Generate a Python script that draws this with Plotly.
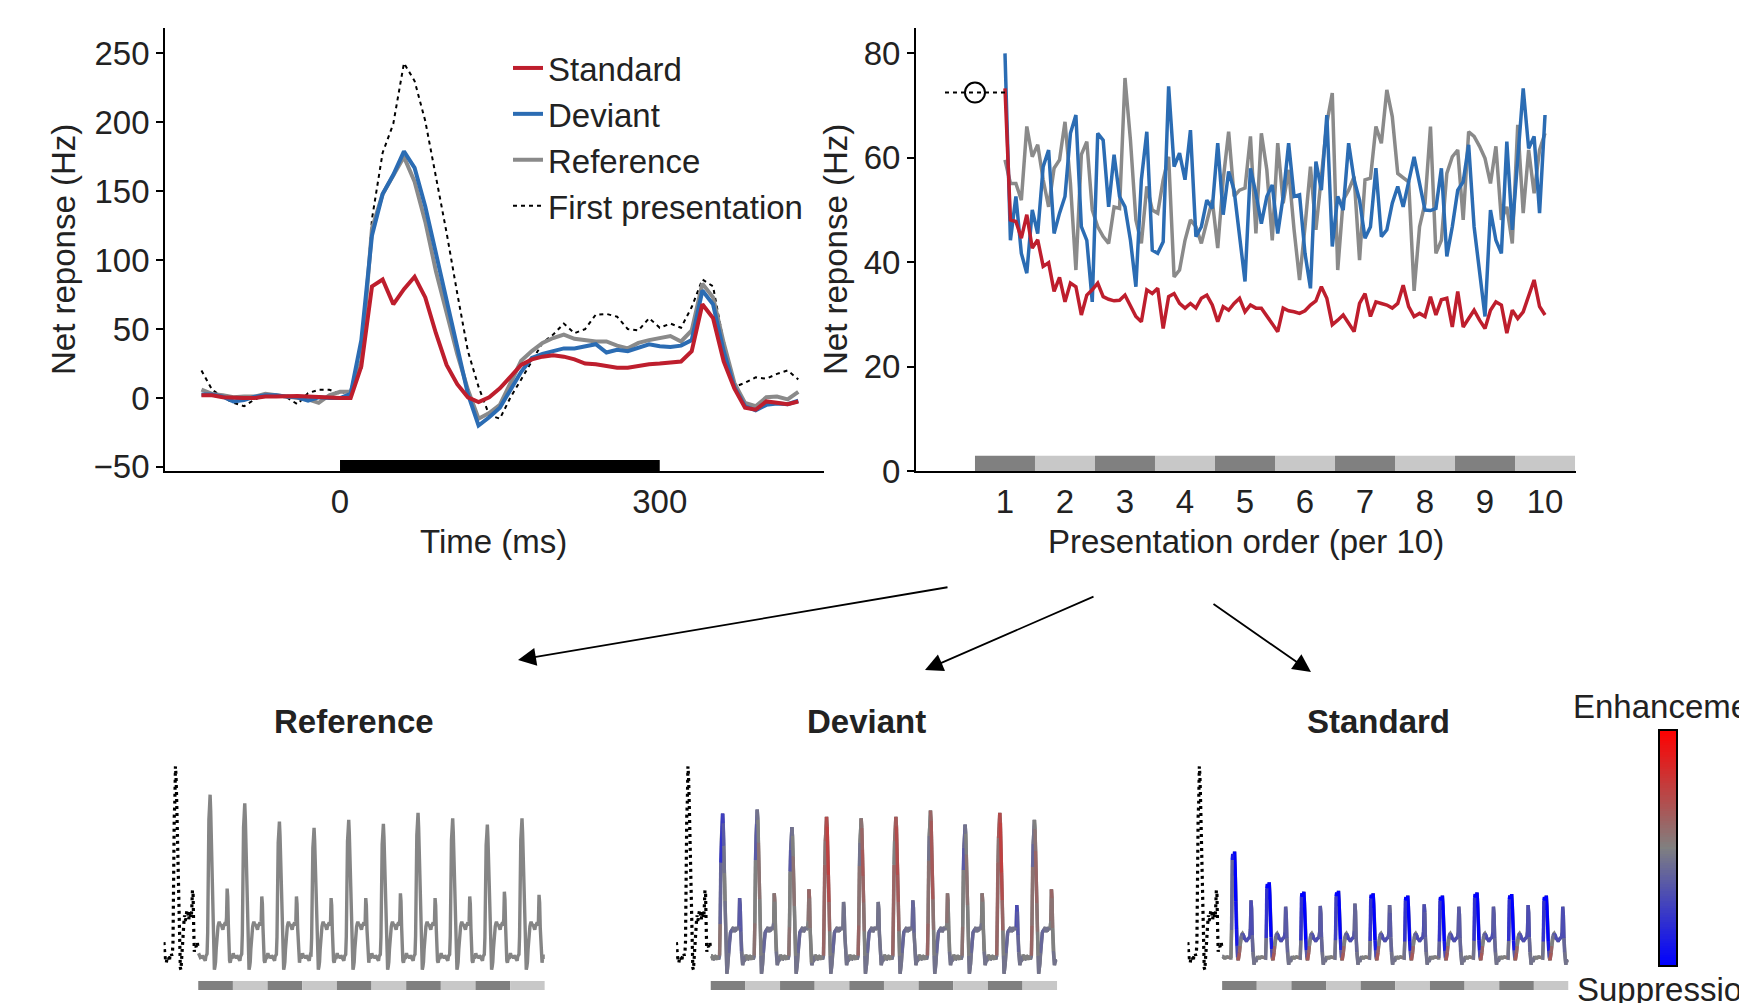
import numpy as np
import plotly.graph_objects as go

W, H = 1747, 1003          # target picture size
OFF = 8                    # page body margin
FW, FH = W - OFF, H - OFF  # figure size so that the page fits the window exactly
def px(x): return (x - OFF) / FW
def py(y): return 1 - (y - OFF) / FH

FONT = "Liberation Sans, Arial, sans-serif"
RED = "#be1e2d"
BLUE = "#2b6cb3"
GRAY = "#8a8a8a"

# ---------------- Data: top-left PSTH (Hz) ----------------
time_ms = list(range(-130, 431, 10))
standard_psth = [2, 2, 0.5, 0, 0, 0, 1, 1, 1.5, 1.5, 1, 0.5, 0.5, 0,
                 0, 23, 81, 86, 68, 79, 88, 73, 47, 24, 10, 0.5, -3, 0.5, 7, 15, 24, 28, 30, 31,
                 30, 28, 25, 24.5, 23.5, 22, 22, 23.5, 24.5, 25, 26, 26.5, 34, 68, 58, 26.5, 7,
                 -7, -8.5, -2.5, -3.5, -4.5, -2.5]
deviant_psth = [2.5, 2.5, 1, -2.5, -1.5, 1, 2, 2, 1, 0.5, -2, 0.5, 0, 0,
                3, 42, 118, 148, 162, 179, 167, 139, 105, 71, 34, 3, -20, -14, -7, 6, 19, 29, 32, 34,
                36, 36, 37.5, 39, 33, 35, 34, 36.5, 39, 37.5, 37, 38, 42, 78, 68, 34, 8,
                -6, -9, -5, -4, -4.5, -2]
reference_psth = [6, 3, 2, 0.5, 1, 1, 3, 2, 1, 0, -1, -3.5, 2, 4.5,
                  4.5, 27, 123, 148, 161, 175, 157, 128, 92, 63, 32, 6, -15, -11, -5, 11, 27, 34, 40, 43.5,
                  46, 43, 42, 41, 41, 38, 36, 40, 42, 43.5, 45, 41, 49, 83, 73, 40, 11,
                  -3.5, -6, 0.5, 1, -1, 4.5]
first_psth = [20, 6, 0.5, -3.5, -6, -1, 2, 1, 0.5, -4.5, 3.5, 6, 6, 3,
              6, 21, 130, 178, 199, 243, 230, 201, 160, 120, 76, 34, 8, -12.5, -15, 0.5, 13.5, 26.5, 40, 46,
              54, 47, 50, 60.5, 61, 59, 50, 49, 58, 51, 54, 51, 66, 86, 81, 40, 8,
              11, 15, 14, 17.5, 20, 13.5]
stim_on_ms, stim_off_ms = 0, 300

# ---------------- Data: top-right, response vs presentation order ----------------
presentation = list(range(1, 101))
standard_order = [73.3, 48.1, 47.8, 44.6, 49.1, 42.7, 44.3, 39.2, 39.9, 34.4,
                  37.1, 32.4, 36.0, 35.3, 29.9, 33.7, 34.7, 36.0, 33.4, 32.9,
                  32.6, 32.7, 33.7, 31.5, 29.6, 28.6, 34.7, 34.0, 35.0, 27.3,
                  33.4, 34.0, 32.1, 31.2, 32.1, 31.2, 33.1, 33.7, 31.8, 28.6,
                  31.5, 30.8, 32.1, 33.1, 30.5, 31.8, 31.2, 31.2, 29.6, 28.3,
                  26.7, 31.2, 30.7, 30.5, 30.2, 30.7, 31.8, 32.6, 35.3, 33.1,
                  28.0, 28.9, 29.9, 28.3, 26.7, 32.1, 34.0, 29.6, 32.4, 32.1,
                  31.8, 31.2, 32.1, 35.6, 31.5, 29.6, 30.2, 29.6, 33.4, 29.9,
                  32.8, 33.1, 27.6, 34.4, 27.6, 29.2, 30.8, 28.9, 27.3, 30.8,
                  32.4, 31.8, 26.4, 30.8, 29.2, 30.5, 33.4, 36.6, 31.5, 29.9]
deviant_order = [80.0, 44.2, 52.6, 41.7, 37.9, 50.0, 45.5, 58.3, 61.5, 45.5,
                 49.4, 52.6, 64.7, 68.2, 46.8, 44.2, 32.4, 64.7, 63.4, 50.6,
                 60.6, 52.6, 50.6, 44.2, 35.3, 55.8, 65.0, 42.3, 41.7, 43.9,
                 73.7, 58.3, 60.9, 55.8, 65.3, 44.9, 46.8, 51.9, 50.3, 62.8,
                 49.1, 57.4, 53.8, 44.9, 36.3, 58.0, 53.2, 47.4, 52.6, 54.8,
                 45.5, 52.6, 62.8, 52.6, 52.9, 41.7, 35.0, 59.3, 53.8, 68.2,
                 43.0, 52.6, 50.0, 62.8, 55.8, 51.9, 44.6, 46.8, 58.0, 44.9,
                 46.2, 51.3, 54.5, 50.6, 55.8, 60.2, 55.1, 50.0, 49.9, 50.3,
                 58.0, 41.1, 46.8, 53.8, 55.4, 62.5, 46.8, 37.9, 29.6, 50.0,
                 44.2, 41.7, 63.1, 46.2, 59.6, 73.3, 61.8, 64.1, 49.4, 68.2]
reference_order = [59.6, 55.1, 55.1, 51.9, 66.0, 60.2, 62.5, 55.8, 50.6, 58.0,
                   59.6, 66.9, 55.1, 38.5, 60.6, 63.1, 50.0, 46.8, 44.9, 43.6,
                   50.6, 50.3, 75.3, 63.4, 48.1, 43.6, 54.5, 50.0, 49.4, 55.8,
                   60.2, 37.2, 38.5, 44.2, 48.1, 46.8, 43.6, 48.1, 51.9, 42.7,
                   55.8, 65.0, 52.6, 53.8, 54.2, 64.1, 45.5, 64.7, 57.7, 44.2,
                   62.8, 51.3, 57.7, 46.2, 36.6, 46.8, 58.3, 46.2, 56.4, 66.6,
                   72.4, 38.5, 51.9, 53.8, 56.4, 40.4, 55.8, 56.1, 66.0, 62.8,
                   73.0, 67.9, 57.0, 56.1, 55.4, 34.5, 46.8, 51.3, 66.0, 41.7,
                   44.2, 57.0, 60.2, 61.5, 48.1, 65.0, 64.1, 62.2, 59.9, 55.1,
                   62.2, 48.1, 50.6, 43.6, 66.3, 49.4, 61.5, 53.2, 61.5, 64.7]
first_presentation_value = 72.5
order_ticks = list(range(1, 11))

# ---------------- Data: bottom, per-block (10 presentations) peaks (Hz) ----------------
blocks = list(range(1, 11))
ref_onset_peak = [207, 196, 173, 165, 175, 170, 184, 177, 169, 177]
dev_onset_peak = [183, 188, 166, 179, 177, 179, 187, 169, 184, 175]
std_onset_peak = [135, 96, 84, 85, 82, 79, 79, 83, 81, 79]
ref_offset_peak = [88, 78, 78, 76, 76, 82, 76, 78, 84, 80]
dev_offset_peak = [76, 82, 87, 71, 71, 73, 82, 82, 67, 87]
std_offset_peak = [73, 65, 66, 69, 67, 68, 65, 65, 67, 65]

# ---------------- helpers ----------------
t_arr = np.array(time_ms)
on_idx = np.where((t_arr >= 10) & (t_arr <= 120))[0]
off_idx = np.where((t_arr >= 330) & (t_arr <= 370))[0]

def block_trace(mean, onset, offset):
    m = np.array(mean, float)
    g = m.copy()
    g[on_idx] *= onset / m[on_idx].max()
    g[off_idx] *= offset / m[off_idx].max()
    return g

def cycle_x(k):
    return [k - 0.5 + (t + 135) / 570 for t in time_ms]

def concat(mean, onsets, offsets):
    xs, ys = [], []
    for k, on, off in zip(blocks, onsets, offsets):
        xs += cycle_x(k)
        ys += list(block_trace(mean, on, off))
    return xs, ys

def cmap(c):
    c = max(-1, min(1, c))
    if c < 0:
        a = -c
        return f"rgb({int(128*(1-a))},{int(128*(1-a))},{int(128+127*a)})"
    return f"rgb({int(128+127*c)},{int(128*(1-c))},{int(128*(1-c))})"

fig = go.Figure()

# ---- top-left traces (first presentation underneath) ----
fig.add_trace(go.Scatter(x=time_ms, y=first_psth, mode="lines", name="First presentation",
                         line=dict(color="black", width=2, dash="4px,4px"), legendrank=4,
                         xaxis="x", yaxis="y"))
fig.add_trace(go.Scatter(x=time_ms, y=reference_psth, mode="lines", name="Reference",
                         line=dict(color=GRAY, width=4), legendrank=3, xaxis="x", yaxis="y"))
fig.add_trace(go.Scatter(x=time_ms, y=deviant_psth, mode="lines", name="Deviant",
                         line=dict(color=BLUE, width=4), legendrank=2, xaxis="x", yaxis="y"))
fig.add_trace(go.Scatter(x=time_ms, y=standard_psth, mode="lines", name="Standard",
                         line=dict(color=RED, width=4), legendrank=1, xaxis="x", yaxis="y"))

# ---- top-right traces ----
ox = [1 + (p - 1) * 9 / 99 for p in presentation]
fig.add_trace(go.Scatter(x=ox, y=reference_order, mode="lines", line=dict(color=GRAY, width=3.5),
                         showlegend=False, xaxis="x2", yaxis="y2"))
fig.add_trace(go.Scatter(x=ox, y=deviant_order, mode="lines", line=dict(color=BLUE, width=3.5),
                         showlegend=False, xaxis="x2", yaxis="y2"))
fig.add_trace(go.Scatter(x=ox, y=standard_order, mode="lines", line=dict(color=RED, width=3.5),
                         showlegend=False, xaxis="x2", yaxis="y2"))
fig.add_trace(go.Scatter(x=[0, 1], y=[first_presentation_value] * 2, mode="lines",
                         line=dict(color="black", width=2, dash="4px,4px"),
                         showlegend=False, xaxis="x2", yaxis="y2"))
fig.add_trace(go.Scatter(x=[0.5], y=[first_presentation_value], mode="markers",
                         marker=dict(symbol="circle-open", size=20, color="black", line=dict(width=2)),
                         showlegend=False, xaxis="x2", yaxis="y2"))

# ---- bottom panels ----
ref_x, ref_y = concat(reference_psth, ref_onset_peak, ref_offset_peak)
dev_x, dev_y = concat(deviant_psth, dev_onset_peak, dev_offset_peak)
std_x, std_y = concat(standard_psth, std_onset_peak, std_offset_peak)

for ax in ["3", "4", "5"]:
    fig.add_trace(go.Scatter(x=cycle_x(0), y=first_psth, mode="lines",
                             line=dict(color="black", width=3.2, dash="3px,4px"),
                             showlegend=False, xaxis="x" + ax, yaxis="y" + ax))

fig.add_trace(go.Scatter(x=ref_x, y=ref_y, mode="lines", line=dict(color="#858585", width=3.4),
                         showlegend=False, xaxis="x3", yaxis="y3"))

def add_colored(xs, ys, ax):
    diff = np.array(ys) - np.array(ref_y)
    cs = np.clip(diff / 40.0, -1, 1)
    fig.add_trace(go.Scatter(x=xs, y=ys, mode="lines", line=dict(color="#808080", width=3.4),
                             showlegend=False, xaxis="x" + ax, yaxis="y" + ax))
    runs = []
    cur = None
    for i in range(len(xs) - 1):
        b = int(round((cs[i] + cs[i + 1]) / 2 * 10))
        if b != cur:
            runs.append([b, [xs[i]], [ys[i]]])
            cur = b
        runs[-1][1].append(xs[i + 1])
        runs[-1][2].append(ys[i + 1])
    bins = {}
    for b, rx, ry in runs:
        bx, by = bins.setdefault(b, ([], []))
        bx += rx + [None]
        by += list(ry) + [None]
    for b, (bx, by) in sorted(bins.items()):
        fig.add_trace(go.Scatter(x=bx, y=by, mode="lines", line=dict(color=cmap(b / 10), width=3.4),
                                 showlegend=False, xaxis="x" + ax, yaxis="y" + ax, hoverinfo="skip"))

add_colored(dev_x, dev_y, "4")
add_colored(std_x, std_y, "5")

# colour key (heatmap strip)
key_levels = list(np.linspace(-1, 1, 101))
CS = [[0, "rgb(0,0,255)"], [0.5, "rgb(128,128,128)"], [1, "rgb(255,0,0)"]]
fig.add_trace(go.Heatmap(z=[[v] for v in key_levels], x=[0], y=key_levels, colorscale=CS,
                         zmin=-1, zmax=1, showscale=False, xaxis="x6", yaxis="y6", hoverinfo="skip"))

# ---------------- layout ----------------
tickfont = dict(family=FONT, size=33, color="#222")
common_x = dict(showline=True, linecolor="black", linewidth=1.5, showgrid=False, zeroline=False,
                ticks="", tickfont=tickfont, ticklabelstandoff=1)
common_y = dict(showline=True, linecolor="black", linewidth=1.5, showgrid=False, zeroline=False,
                ticks="outside", ticklen=7, tickwidth=1.5, tickcolor="black", tickfont=tickfont)
hidden = dict(visible=False, showgrid=False, zeroline=False)

shapes = []
shapes.append(dict(type="rect", xref="x", yref="y", x0=stim_on_ms, x1=stim_off_ms, y0=-52.98, y1=-45,
                   fillcolor="black", line=dict(width=0)))
for k in order_ticks:
    col = "#808080" if k % 2 == 1 else "#c8c8c8"
    shapes.append(dict(type="rect", xref="x2", yref="y2", x0=k - 0.5, x1=k + 0.5, y0=0, y1=2.9,
                       fillcolor=col, line=dict(width=0), layer="below"))
    for ax in ["3", "4", "5"]:
        shapes.append(dict(type="rect", xref="x" + ax, yref="y" + ax, x0=k - 0.5, x1=k + 0.5,
                           y0=-40.6, y1=-29.2, fillcolor=col, line=dict(width=0)))
shapes.append(dict(type="rect", xref="paper", yref="paper", x0=px(1659), x1=px(1677),
                   y0=py(966), y1=py(730), line=dict(color="black", width=2), fillcolor="rgba(0,0,0,0)"))

ann = []
def text(x, y, s, size=33, angle=0, bold=False, xanchor="center"):
    ann.append(dict(x=px(x), y=py(y), xref="paper", yref="paper", text=s, showarrow=False,
                    textangle=angle, xanchor=xanchor, yanchor="middle",
                    font=dict(family=FONT, size=size, color="#222", weight="bold" if bold else "normal")))

text(63.5, 249.5, "Net reponse (Hz)", angle=-90)
text(835.5, 249.5, "Net reponse (Hz)", angle=-90)
text(493.5, 541.5, "Time (ms)")
text(1245.5, 541.5, "Presentation order (per 10)")
text(354, 721, "Reference", bold=True)
text(866, 721, "Deviant", bold=True)
text(1378, 721, "Standard", bold=True)
text(1571, 706, "Enhancement", xanchor="left")
text(1575, 989, "Suppression", xanchor="left")

for (tx, ty, hx, hy) in [(949, 587, 518, 660), (1095, 596, 925, 670), (1212, 603, 1311, 672)]:
    ann.append(dict(x=px(hx), y=py(hy), xref="paper", yref="paper", axref="pixel", ayref="pixel",
                    ax=tx - hx, ay=ty - hy, text="", showarrow=True, arrowhead=2, arrowsize=2,
                    arrowwidth=1.8, arrowcolor="black"))

fig.update_layout(
    width=FW, height=FH, margin=dict(l=0, r=0, t=0, b=0, autoexpand=False),
    paper_bgcolor="white", plot_bgcolor="white", hovermode=False,
    font=dict(family=FONT, size=33, color="#222"),
    showlegend=True,
    legend=dict(x=px(508), y=py(40), xanchor="left", yanchor="top", bgcolor="rgba(0,0,0,0)",
                font=dict(family=FONT, size=33, color="#222"), traceorder="normal",
                itemwidth=30, borderwidth=0),
    xaxis=dict(domain=[px(164.9), px(824.4)], range=[-164.3, 454.5], tickvals=[0, 300],
               anchor="y", **common_x),
    yaxis=dict(domain=[py(471), py(28)], range=[-52.98, 268.5],
               tickvals=[-50, 0, 50, 100, 150, 200, 250], anchor="x", **common_y),
    xaxis2=dict(domain=[px(915.7), px(1576.4)], range=[-0.488, 10.523], tickvals=order_ticks,
                anchor="y2", **common_x),
    yaxis2=dict(domain=[py(471), py(28)], range=[0, 84.87], tickvals=[0, 20, 40, 60, 80],
                anchor="x2", **common_y),
    xaxis3=dict(domain=[px(163.6), px(544.8)], range=[-0.5, 10.5], anchor="y3", **hidden),
    yaxis3=dict(domain=[py(991.1), py(752.9)], range=[-42, 260], anchor="x3", **hidden),
    xaxis4=dict(domain=[px(676.1), px(1057.2)], range=[-0.5, 10.5], anchor="y4", **hidden),
    yaxis4=dict(domain=[py(991.1), py(752.9)], range=[-42, 260], anchor="x4", **hidden),
    xaxis5=dict(domain=[px(1187.5), px(1568.5)], range=[-0.5, 10.5], anchor="y5", **hidden),
    yaxis5=dict(domain=[py(991.1), py(752.9)], range=[-42, 260], anchor="x5", **hidden),
    xaxis6=dict(domain=[px(1659), px(1677)], range=[-0.5, 0.5], anchor="y6", **hidden),
    yaxis6=dict(domain=[py(966), py(730)], range=[-1, 1], anchor="x6", **hidden),
    shapes=shapes, annotations=ann,
)

fig.write_html("out.html")
